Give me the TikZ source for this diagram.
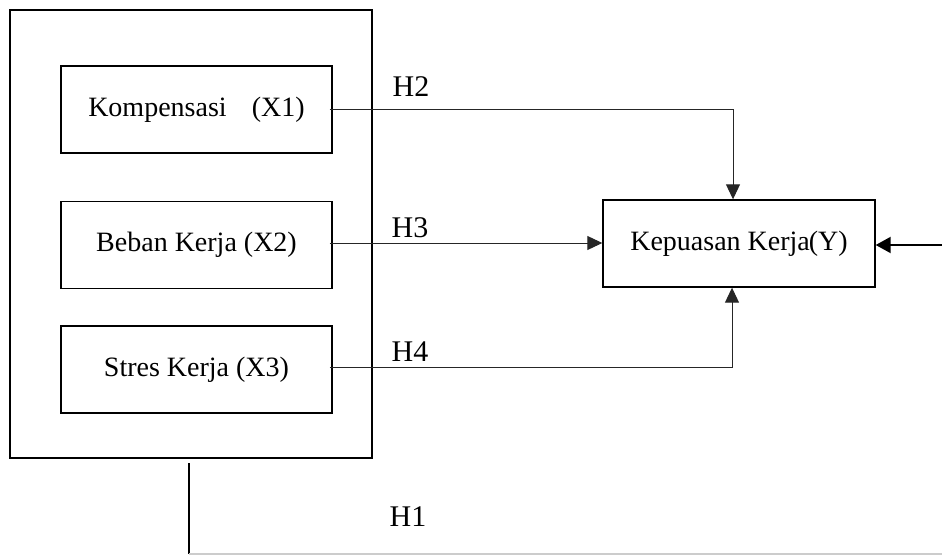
\documentclass[tikz,border=0pt]{standalone}
\usepackage{fontspec}
\setmainfont{Liberation Serif}
\usetikzlibrary{arrows.meta}
\tikzset{
  varbox/.style={draw, line width=1.4pt, minimum width=271pt, minimum height=87pt, inner sep=0pt, font=\fontsize{28}{30}\selectfont},
  outerbox/.style={draw, line width=2pt, minimum width=362pt, minimum height=448pt, inner sep=0pt},
  conn/.style={line width=1pt, draw=black!85},
  arr/.style={conn, -{Triangle[length=15pt,width=14pt]}},
  hlabel/.style={font=\fontsize{30}{32}\selectfont, inner sep=0pt}
}
\begin{document}
\begin{tikzpicture}[x=1pt,y=-1pt]
\useasboundingbox (0,0) rectangle (942,556);
\node[outerbox] (outer) at (191,234) {};
\node[varbox] (x1) at (196.5,109.5) {Kompensasi\hspace{0.9em}(X1)};
\node[varbox] (x2) at (196.5,245) {Beban Kerja (X2)\hspace{1.8em}};
\node[varbox] (x3) at (196.5,369.5) {Stres Kerja (X3)};
\node[varbox, minimum width=272pt] (y) at (739,243.5) {Kepuasan Kerja\kern-1pt(Y)};

\node[hlabel] (h2) at (411,87) {H2};
\node[hlabel] (h3) at (410,228) {H3};
\node[hlabel] (h4) at (410,352) {H4};
\node[hlabel] (h1) at (408,517) {H1};

\draw[arr] ([xshift=-3pt]x1.east) -| ([xshift=-6pt]y.north);
\draw[arr] ([xshift=-3pt,yshift=2pt]x2.east) -- ([yshift=2pt]x2.east -| y.west);
\draw[arr] ([xshift=-3pt,yshift=2.5pt]x3.east) -| ([xshift=-7pt]y.south);

\coordinate (rin) at (942,245);
\draw[line width=2pt, -{Triangle[length=15pt,width=16pt]}] (rin) -- (rin -| y.east);

\coordinate (b1) at (189,554);
\coordinate (b2) at (942,554);
\draw[line width=2pt] (b1 |- outer.south) ++(0,4) -- (b1);
\draw[line width=1.2pt, draw=black!20] (b1) -- (b2);
\end{tikzpicture}
\end{document}
